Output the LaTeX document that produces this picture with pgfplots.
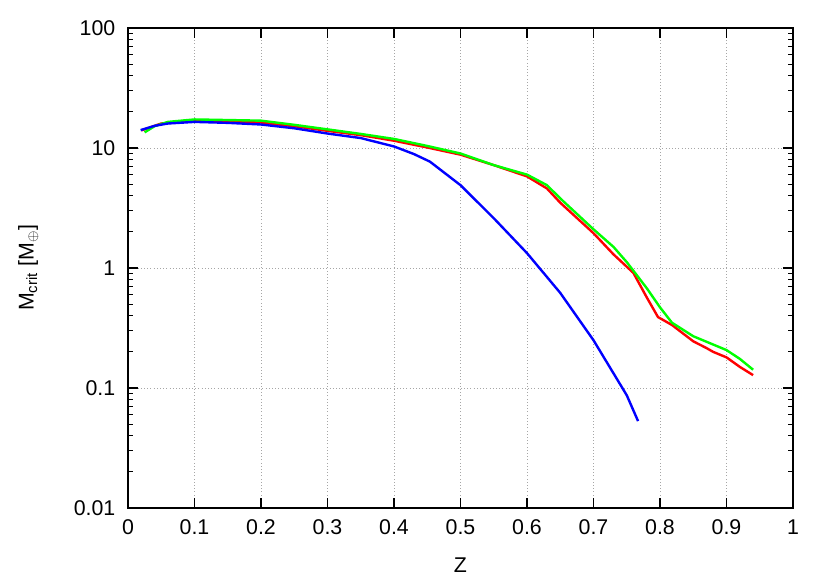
\documentclass[border=0pt]{standalone}
\usepackage{fontspec}
\setmainfont{Liberation Sans}
\usepackage{pgfplots}
\pgfplotsset{compat=1.18}

\pgfplotstableread{
z m
0.02 14.0
0.05 16.0
0.1 16.8
0.15 16.6
0.2 16.3
0.25 15.2
0.3 13.9
0.35 12.8
0.4 11.5
0.45 10.1
0.5 8.8
0.55 7.2
0.6 5.8
0.63 4.6
0.65 3.5
0.7 1.95
0.73 1.3
0.76 0.91
0.78 0.57
0.797 0.39
0.818 0.335
0.85 0.245
0.87 0.215
0.88 0.2
0.9 0.18
0.92 0.15
0.94 0.128
}\redcurve

\pgfplotstableread{
z m
0.025 13.5
0.04 15.2
0.06 16.5
0.1 17.3
0.15 17.1
0.2 16.9
0.25 15.6
0.3 14.3
0.35 13.1
0.4 11.9
0.45 10.4
0.5 9.0
0.55 7.2
0.6 6.0
0.63 4.9
0.65 3.8
0.7 2.1
0.73 1.5
0.75 1.12
0.78 0.68
0.80 0.47
0.818 0.35
0.85 0.27
0.9 0.207
0.92 0.175
0.94 0.142
}\greencurve

\pgfplotstableread{
z m
0.019 14.1
0.04 15.3
0.06 16.0
0.1 16.5
0.15 16.2
0.2 15.7
0.25 14.6
0.3 13.2
0.35 12.1
0.4 10.3
0.43 8.9
0.454 7.7
0.5 4.9
0.55 2.6
0.6 1.33
0.65 0.62
0.7 0.25
0.75 0.087
0.767 0.053
}\bluecurve

\definecolor{gpred}{RGB}{255,0,0}
\definecolor{gpgreen}{RGB}{0,255,0}
\definecolor{gpblue}{RGB}{0,0,255}

\begin{document}
\begin{tikzpicture}
\useasboundingbox (-96pt,-55.5pt) rectangle (526.5pt,381pt);
\begin{axis}[
  at={(0,0)}, anchor=south west,
  scale only axis,
  width=498.75pt, height=360pt,
  ymode=log,
  xmin=0, xmax=1, ymin=0.01, ymax=100,
  xtick={0,0.1,...,1},
  xticklabels={0,0.1,0.2,0.3,0.4,0.5,0.6,0.7,0.8,0.9,1},
  ytick={0.01,0.1,1,10,100},
  yticklabels={0.01,0.1,1,10,100},
  /pgf/number format/assume math mode=true,
  tick label style={font=\fontsize{16}{18}\selectfont},
  label style={font=\fontsize{16}{18}\selectfont},
  xlabel={Z},
  ylabel={M\textsubscript{crit} [M\textsubscript{$\oplus$}]},
  xlabel style={at={(axis description cs:0.5,-0.119)}, anchor=center},
  ylabel style={at={(axis description cs:-0.150,0.5)}, anchor=center},
  tick align=inside,
  major tick length=7.5pt,
  minor tick length=3.75pt,
  tick style={black, line width=0.8pt},
  axis line style={line width=1.3pt},
  grid=major,
  major grid style={draw=gray!70, dotted, line width=0.7pt},
  xticklabel style={yshift=-5pt},
  yticklabel style={xshift=-6pt},
]
\addplot[gpred, line width=1.8pt] table[x=z,y=m] {\redcurve};
\addplot[gpgreen, line width=1.8pt] table[x=z,y=m] {\greencurve};
\addplot[gpblue, line width=1.8pt] table[x=z,y=m] {\bluecurve};
\end{axis}
\end{tikzpicture}
\end{document}
